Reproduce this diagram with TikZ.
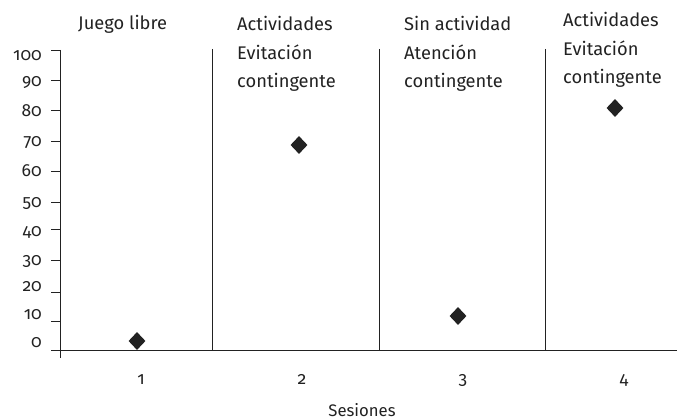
\documentclass[tikz,border=0pt]{standalone}
\usepackage{fontspec}
\setmainfont{Fira Sans}[Numbers=OldStyle]
\usetikzlibrary{shapes.geometric}
\definecolor{ink}{HTML}{222222}
\begin{document}
\begin{tikzpicture}[x=1pt,y=-1pt,
  axis/.style={line width=0.8pt,ink},
  sep/.style={line width=0.8pt,ink},
  ylab/.style={anchor=base east,font=\fontsize{17.5}{17.5}\selectfont,text=ink,inner sep=0pt},
  xlab/.style={anchor=base,font=\fontsize{17.5}{17.5}\selectfont,text=ink,inner sep=0pt},
  head/.style={anchor=base west,font=\fontsize{18.3}{18.3}\selectfont,text=ink,inner sep=0pt},
  pt/.style={diamond,fill=ink,draw=none,minimum width=17pt,minimum height=18pt,inner sep=0pt}]
\useasboundingbox (0,0) rectangle (677,419);
% axes
\coordinate (ytop) at (60,50);
\coordinate (ybot) at (60,358);
\coordinate (xl) at (51,350);
\coordinate (xr) at (677,350);
\draw[axis] (ytop) -- (ybot);
\draw[axis] (xl) -- (xr);
\foreach \v/\ty in {10/321,20/292,30/260,40/229,50/202,60/171,70/141,80/110,90/80,100/50}{
  \coordinate (t\v a) at (51,\ty);
  \coordinate (t\v b) at (60,\ty);
  \draw[axis] (t\v a) -- (t\v b);
}
\foreach \v/\by in {0/348,10/320,20/292,30/266,40/237,50/208,60/177,70/147,80/117,90/87,100/61}{
  \node[ylab] (yl\v) at (42,\by) {\v};
}
% separators
\foreach \x/\n in {212/a,379/b,545/c}{
  \coordinate (s\n1) at (\x,49);
  \coordinate (s\n2) at (\x,350);
  \draw[sep] (s\n1) -- (s\n2);
}
% headers
\node[head] (h1) at (78,30) {Juego libre};
\node[head] (h2a) at (237,31) {Actividades};
\node[head] (h2b) at (237,59.5) {Evitación};
\node[head] (h2c) at (237,88) {contingente};
\node[head] (h3a) at (404,31) {Sin actividad};
\node[head] (h3b) at (404,59.5) {Atención};
\node[head] (h3c) at (404,88) {contingente};
\node[head] (h4a) at (563,27) {Actividades};
\node[head] (h4b) at (563,55.5) {Evitación};
\node[head] (h4c) at (563,84) {contingente};
% points
\node[pt] (p1) at (137,341) {};
\node[pt] (p2) at (299,145) {};
\node[pt] (p3) at (458,316) {};
\node[pt] (p4) at (615,108) {};
% x labels
\node[xlab] (x1) at (141,384) {1};
\node[xlab] (x2) at (302,384) {2};
\node[xlab] (x3) at (463,384) {3};
\node[xlab] (x4) at (624,384) {4};
\node[xlab,font=\fontsize{16.7}{16.7}\selectfont] (xt) at (362,416) {Sesiones};
\end{tikzpicture}
\end{document}
